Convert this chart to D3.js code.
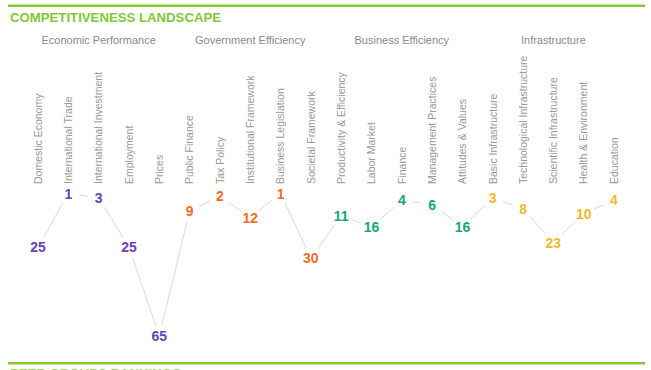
<!DOCTYPE html>
<html>
<head>
<meta charset="utf-8">
<script src="https://cdn.jsdelivr.net/npm/d3@7"></script>
<style>
  body { margin: 0; background: #fff; }
  svg { display: block; font-family: "Liberation Sans", Arial, sans-serif; }
</style>
</head>
<body>
<script>
const width = 651
const height = 370
const pillars = ['Economic Performance', 'Government Efficiency', 'Business Efficiency', 'Infrastructure']
const pillarColors = ['#6a41b4', '#f36c24', '#17a57a', '#f0b92c']
const factors = ['Domestic Economy', 'International Trade', 'International Investment', 'Employment', 'Prices',
  'Public Finance', 'Tax Policy', 'Institutional Framework', 'Business Legislation', 'Societal Framework',
  'Productivity & Efficiency', 'Labor Market', 'Finance', 'Management Practices', 'Attitudes & Values',
  'Basic Infrastructure', 'Technological Infrastructure', 'Scientific Infrastructure', 'Health & Environment', 'Education']
const factorPillar = [0, 0, 0, 0, 0, 1, 1, 1, 1, 1, 2, 2, 2, 2, 2, 3, 3, 3, 3, 3]
const ranks = [25, 1, 3, 25, 65, 9, 2, 12, 1, 30, 11, 16, 4, 6, 16, 3, 8, 23, 10, 4]

const data = factors.map((f, i) => ({ factor: f, rank: ranks[i], pillar: factorPillar[i] }))

const svg = d3.select('body')
        .append('svg')
        .attr('width', width)
        .attr('height', height)

// green rules + titles
svg.append('rect')
        .attr('x', 8).attr('y', 4.5)
        .attr('width', 637).attr('height', 2.5)
        .attr('fill', '#86c832')

svg.append('rect')
        .attr('x', 8).attr('y', 362)
        .attr('width', 637).attr('height', 2.5)
        .attr('fill', '#86c832')

svg.append('text')
        .text('COMPETITIVENESS LANDSCAPE')
        .attr('x', 10)
        .attr('y', 21.5)
        .attr('font-size', '13.2px')
        .attr('font-weight', 'bold')
        .attr('fill', '#7fc836')

// next section heading, cut off by the bottom edge as in the page it came from
svg.append('text')
        .text('PEER GROUPS RANKINGS')
        .attr('x', 10)
        .attr('y', 378)
        .attr('font-size', '13.2px')
        .attr('font-weight', 'bold')
        .attr('fill', '#9bd45a')

// scales
const xScale = d3.scalePoint()
        .domain(factors)
        .range([38, 614])

const yScale = d3.scaleLinear()
        .domain([1, 65])
        .range([193.5, 336])

// pillar headers
svg.selectAll('.pillar')
        .data(pillars)
        .join('text')
        .attr('class', 'pillar')
        .text(d => d)
        .attr('x', (d, i) => {
            const cols = factors.filter((f, n) => factorPillar[n] === i)
            return (xScale(cols[0]) + xScale(cols[cols.length - 1])) / 2
        })
        .attr('y', 43.5)
        .attr('text-anchor', 'middle')
        .attr('font-size', '11px')
        .attr('fill', '#8a8a8a')

// rotated factor labels, reading bottom to top
svg.selectAll('.factor')
        .data(factors)
        .join('text')
        .attr('class', 'factor')
        .text(d => d)
        .attr('transform', d => `translate(${xScale(d) + 3.8}, 184) rotate(-90)`)
        .attr('text-anchor', 'start')
        .attr('font-size', '10.5px')
        .attr('fill', '#999')

// connecting lines, shortened at both ends to leave room for the numbers
const gap = 11
svg.selectAll('.link')
        .data(d3.pairs(data))
        .join('line')
        .attr('class', 'link')
        .each(function ([a, b]) {
            const x1 = xScale(a.factor), y1 = yScale(a.rank)
            const x2 = xScale(b.factor), y2 = yScale(b.rank)
            const len = Math.hypot(x2 - x1, y2 - y1)
            const ux = (x2 - x1) / len, uy = (y2 - y1) / len
            d3.select(this)
                .attr('x1', x1 + ux * gap).attr('y1', y1 + uy * gap)
                .attr('x2', x2 - ux * gap).attr('y2', y2 - uy * gap)
        })
        .attr('stroke', '#d9d9d9')
        .attr('stroke-width', 1)

// rank numbers
svg.selectAll('.rank')
        .data(data)
        .join('text')
        .attr('class', 'rank')
        .text(d => d.rank)
        .attr('x', d => xScale(d.factor))
        .attr('y', d => yScale(d.rank))
        .attr('dy', '0.36em')
        .attr('text-anchor', 'middle')
        .attr('font-size', '14px')
        .attr('font-weight', 'bold')
        .attr('fill', d => pillarColors[d.pillar])
</script>
</body>
</html>
